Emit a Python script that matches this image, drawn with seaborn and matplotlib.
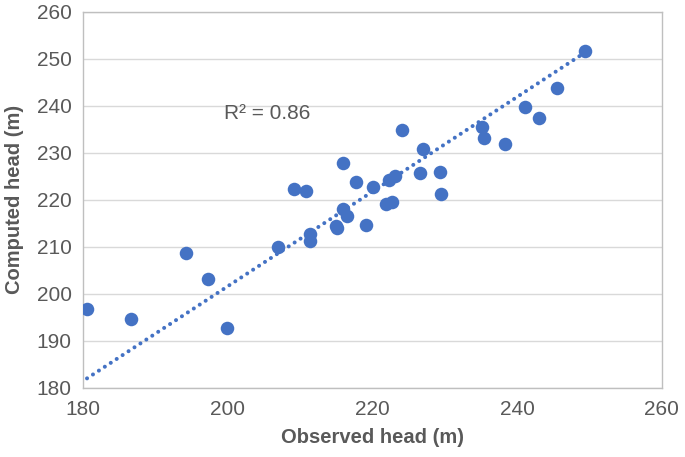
import numpy as np
import pandas as pd
import matplotlib
matplotlib.use("Agg")
import matplotlib.pyplot as plt
import seaborn as sns

# observed vs computed heads
observed = [180.6, 186.7, 194.3, 197.3, 200.0, 207.0, 209.2, 210.9, 211.4, 211.4,
            215.0, 215.1, 216.0, 215.9, 216.5, 217.7, 219.1, 220.1, 222.3, 223.1,
            221.9, 222.7, 224.1, 227.0, 226.6, 229.4, 229.5, 235.2, 235.4, 238.4,
            241.1, 243.0, 245.5, 249.4]
computed = [196.7, 194.6, 208.6, 203.1, 192.8, 210.0, 222.3, 221.9, 212.8, 211.2,
            214.5, 213.9, 227.8, 218.0, 216.6, 223.7, 214.6, 222.8, 224.2, 225.1,
            219.1, 219.6, 234.8, 230.7, 225.6, 225.9, 221.3, 235.4, 233.2, 231.8,
            239.8, 237.4, 243.7, 251.6]
r2_text = "R² = 0.86"

df = pd.DataFrame({"Observed": observed, "Computed": computed})

# Excel-style trendline with intercept forced through zero
x = np.array(observed)
y = np.array(computed)
slope = (x * y).sum() / (x * x).sum()
xs = np.array([x.min(), x.max()])
trend = pd.DataFrame({"Observed": xs, "Computed": slope * xs})

sns.set_theme(style="white")
plt.rcParams["font.family"] = ["Liberation Sans", "DejaVu Sans"]

blue = "#4472C4"
grey = "#595959"

fig = plt.figure(figsize=(6.85, 4.57), dpi=100)
ax = fig.add_axes([0.1207, 0.1516, 0.8453, 0.8228])

sns.lineplot(data=trend, x="Observed", y="Computed", ax=ax, color=blue,
             linewidth=2.9, linestyle=(0, (0.01, 1.75)), dash_capstyle="round")
sns.scatterplot(data=df, x="Observed", y="Computed", ax=ax, s=95, color=blue,
                linewidth=0, alpha=1, zorder=3)

ax.set_xlim(180, 260)
ax.set_ylim(180, 260)
ax.set_xticks(range(180, 261, 20))
ax.set_yticks(range(180, 261, 10))
ax.yaxis.grid(True, color="#d9d9d9", linewidth=1)
ax.xaxis.grid(False)
ax.set_axisbelow(True)
for s in ax.spines.values():
    s.set_color("#bfbfbf")
    s.set_linewidth(1)
ax.tick_params(axis="x", direction="out", length=5, color="#bfbfbf", width=1,
               labelsize=15, labelcolor=grey, pad=4)
ax.tick_params(axis="y", length=0, labelsize=15, labelcolor=grey, pad=8)

ax.set_xlabel("Observed head (m)", fontsize=14.5, fontweight="bold", color=grey, labelpad=6)
ax.set_ylabel("Computed head (m)", fontsize=14.5, fontweight="bold", color=grey, labelpad=9)

ax.text(199.5, 238.4, r2_text, fontsize=15, color=grey, va="center", ha="left")

fig.savefig("out.png", dpi=100)
